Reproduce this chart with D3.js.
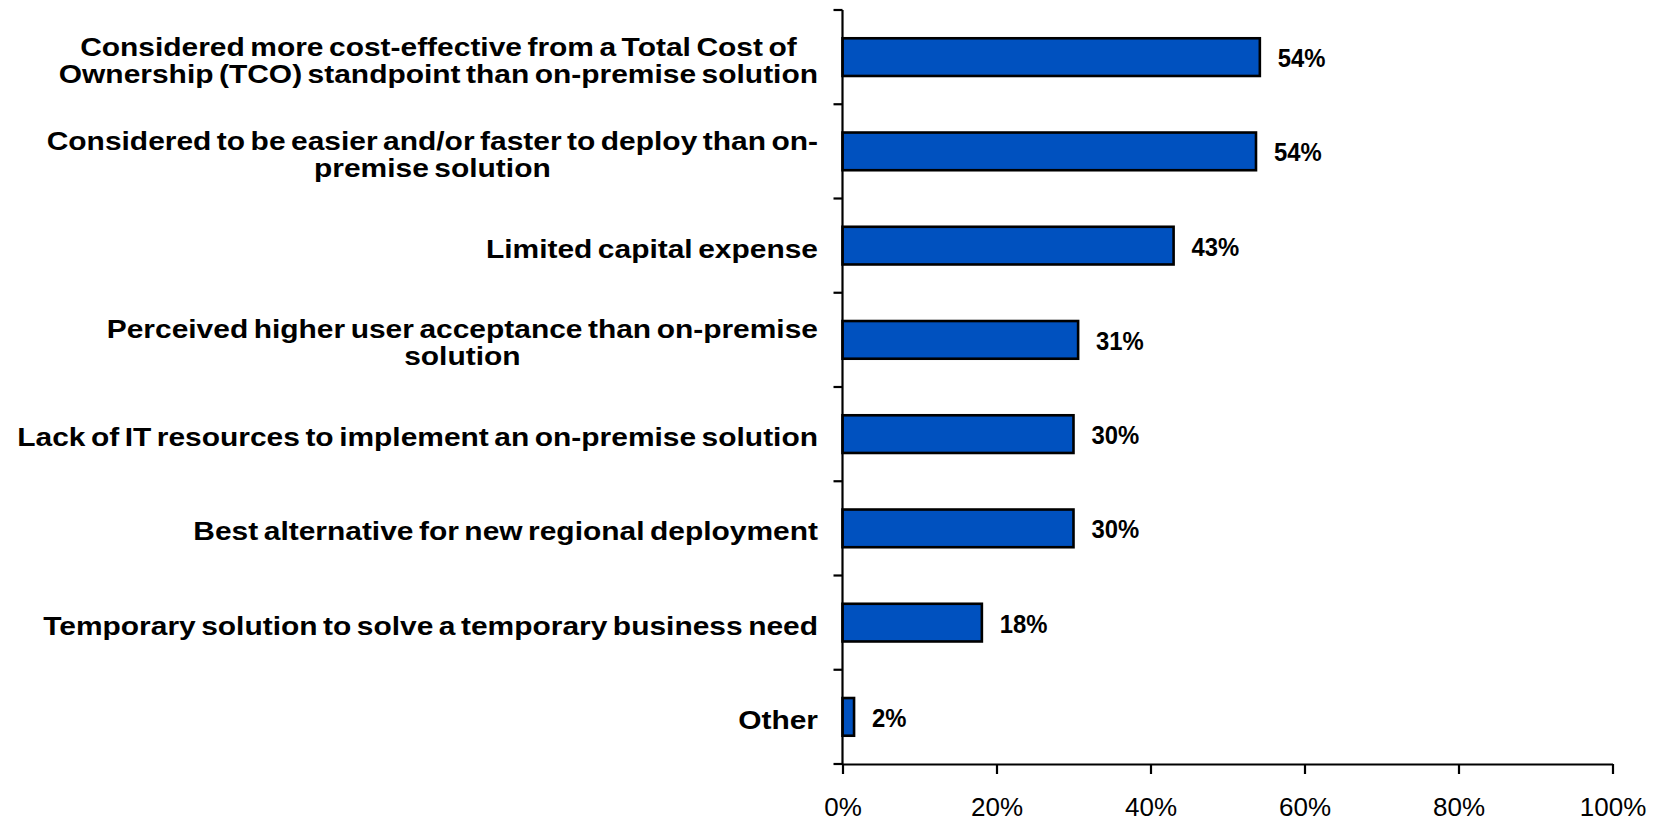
<!DOCTYPE html>
<html>
<head>
<meta charset="utf-8">
<script src="https://cdn.jsdelivr.net/npm/d3@7"></script>
<style>
  html, body { margin: 0; padding: 0; background: #fff; }
  svg { display: block; }
  text { font-family: "Liberation Sans", Arial, sans-serif; fill: #000; }
</style>
</head>
<body>
<svg id="chart" width="1657" height="823"></svg>
<script>
const categories = [
  ["Considered more cost-effective from a Total Cost of", "Ownership (TCO) standpoint than on-premise solution"],
  ["Considered to be easier and/or faster to deploy than on-", "premise solution"],
  ["Limited capital expense"],
  ["Perceived higher user acceptance than on-premise", "solution"],
  ["Lack of IT resources to implement an on-premise solution"],
  ["Best alternative for new regional deployment"],
  ["Temporary solution to solve a temporary business need"],
  ["Other"]
];
const values = [54.2, 53.7, 43.0, 30.6, 30.0, 30.0, 18.1, 1.5];
const valueLabels = ["54%", "54%", "43%", "31%", "30%", "30%", "18%", "2%"];
const xTicks = [0, 20, 40, 60, 80, 100];

const svg = d3.select("#chart");
const M = { left: 842.5, right: 1612.5, top: 10, bottom: 764 };

const x = d3.scaleLinear().domain([0, 100]).range([M.left, M.right]);
const y = d3.scaleBand().domain(d3.range(categories.length)).range([M.top, M.bottom])
  .paddingInner(0.6).paddingOuter(0.3);

// bars
svg.append("g").selectAll("rect").data(values).join("rect")
  .attr("x", x(0))
  .attr("y", (d, i) => y(i))
  .attr("width", d => x(d) - x(0))
  .attr("height", y.bandwidth())
  .attr("fill", "#0051BF")
  .attr("stroke", "#000")
  .attr("stroke-width", 2.6);

// value labels (slightly condensed bold)
svg.append("g").selectAll("text").data(values).join("text")
  .attr("transform", (d, i) => `translate(${x(d) + 18},${y(i) + y.bandwidth() / 2 + 10}) scale(0.9,1)`)
  .attr("font-size", 26.5)
  .attr("font-weight", "bold")
  .text((d, i) => valueLabels[i]);

// y axis line and between-category ticks
const step = y.step();
const boundaries = d3.range(categories.length + 1).map(i => M.top + i * step);
const yAxis = svg.append("g");
yAxis.append("line").attr("x1", M.left).attr("x2", M.left).attr("y1", M.top).attr("y2", M.bottom)
  .attr("stroke", "#000").attr("stroke-width", 2.2);
yAxis.selectAll("line.tick").data(boundaries).join("line").attr("class", "tick")
  .attr("x1", M.left - 9).attr("x2", M.left).attr("y1", d => d).attr("y2", d => d)
  .attr("stroke", "#000").attr("stroke-width", 2.2);

// x axis
const xAxis = svg.append("g").attr("transform", `translate(0,${M.bottom})`)
  .call(d3.axisBottom(x).tickValues(xTicks).tickFormat(d => d + "%").tickSize(10).tickSizeOuter(0).tickPadding(23.5));
xAxis.select(".domain").attr("stroke", "#000").attr("stroke-width", 2.2);
xAxis.selectAll(".tick line").attr("stroke", "#000").attr("stroke-width", 2.2);
xAxis.selectAll(".tick text").attr("font-family", "'Liberation Sans', Arial, sans-serif")
  .attr("font-size", 26).attr("fill", "#000");

// category labels (wide bold)
const labelRight = 818;
const lineH = 27;
const sx = 1.13;
const lab = svg.append("g").attr("font-size", 26.5).attr("font-weight", "bold").attr("word-spacing", -2.5);
categories.forEach((lines, i) => {
  const cy = y(i) + y.bandwidth() / 2 + 2;
  const g = lab.append("g").attr("transform", `translate(${labelRight},0) scale(${sx},1)`);
  const texts = lines.map((ln, j) => g.append("text")
    .attr("y", cy + 10 + (j - (lines.length - 1) / 2) * lineH)
    .text(ln));
  if (lines.length === 1) {
    texts[0].attr("x", 0).attr("text-anchor", "end");
  } else {
    const w = d3.max(texts, t => t.node().getComputedTextLength());
    texts.forEach(t => t.attr("x", -w / 2).attr("text-anchor", "middle"));
  }
});
</script>
</body>
</html>
